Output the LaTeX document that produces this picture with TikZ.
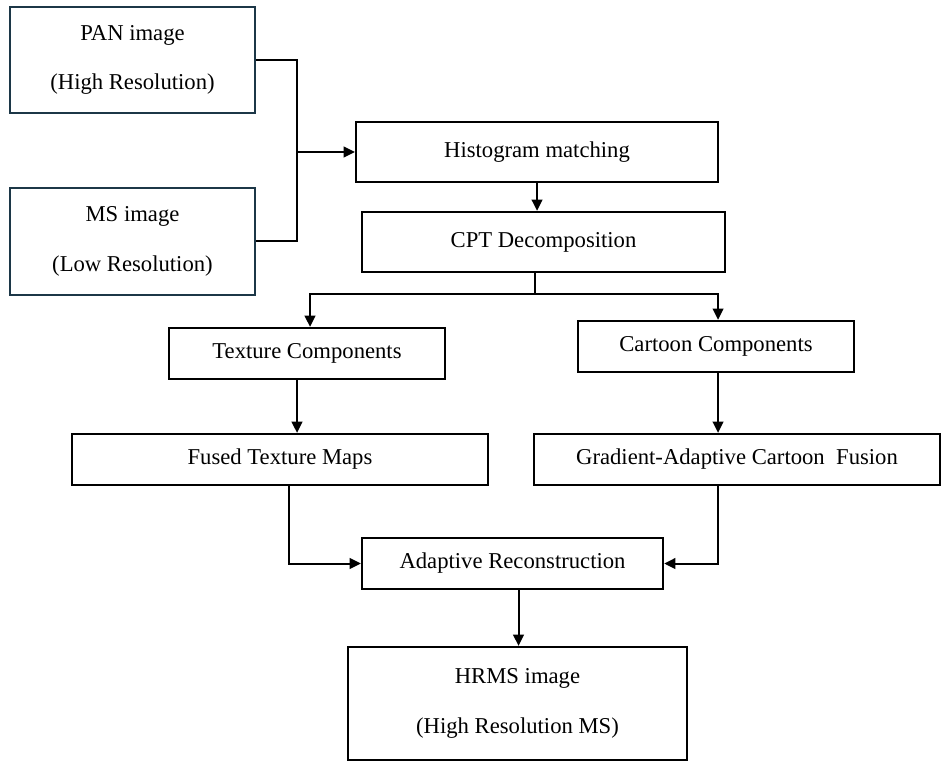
\documentclass[tikz,border=0pt]{standalone}
\usepackage{fontspec}
\setmainfont{Liberation Serif}
\usepackage{xcolor}
\usetikzlibrary{arrows.meta}
\definecolor{inblue}{HTML}{1C3747}

\begin{document}
\begin{tikzpicture}[x=0.75pt, y=-0.75pt,
    box/.style={draw, line width=1.7pt, align=center, inner sep=0pt,
        font=\fontsize{17}{37}\selectfont},
    inbox/.style={box, draw=inblue},
    arr/.style={-{Triangle[width=8pt, length=8.5pt]}},
    every path/.style={line width=1.5pt}]
    \useasboundingbox (0,0) rectangle (944,762);

    \node[inbox, minimum width=183.75pt, minimum height=79.5pt] (pan) at (132.5,60) {PAN image\\(High Resolution)};
    \node[inbox, minimum width=183.75pt, minimum height=80.25pt] (ms) at (132.5,241.5) {MS image\\(Low Resolution)};
    \node[box, minimum width=271.5pt, minimum height=45pt] (hist) at (537,152) {Histogram matching};
    \node[box, minimum width=272.25pt, minimum height=45pt] (cpt) at (543.5,242) {CPT Decomposition};
    \node[box, minimum width=207pt, minimum height=38.25pt] (tex) at (307,353.5) {Texture Components};
    \node[box, minimum width=207pt, minimum height=38.25pt] (cart) at (716,346.5) {Cartoon Components};
    \node[box, minimum width=312pt, minimum height=38.25pt] (fused) at (280,459.5) {Fused Texture Maps};
    \node[box, minimum width=304.5pt, minimum height=38.25pt] (grad) at (737,459.5) {Gradient-Adaptive Cartoon\ \ Fusion};
    \node[box, minimum width=225.75pt, minimum height=38.25pt] (adapt) at (512.5,563.5) {Adaptive Reconstruction};
    \node[box, minimum width=254.25pt, minimum height=84.75pt] (hrms) at (517.5,703.5) {HRMS image\\(High Resolution MS)};

    \coordinate (jn) at (297,152);
    \coordinate (sp) at (535,294);

    \draw (pan.east) -| (jn) |- (ms.east);
    \draw[arr] (jn) -- (hist.west);
    \draw[arr] (hist.south) -- (hist.south |- cpt.north);
    \draw (sp |- cpt.south) -- (sp);
    \draw[arr] (sp) -| ([xshift=2.25pt]tex.north);
    \draw[arr] (sp) -| ([xshift=1.5pt]cart.north);
    \draw[arr] ([xshift=-7.5pt]tex.south) -- ([xshift=-7.5pt]tex.south |- fused.north);
    \draw[arr] ([xshift=1.5pt]cart.south) -- ([xshift=1.5pt]cart.south |- grad.north);
    \draw[arr] ([xshift=6.75pt]fused.south) |- (adapt.west);
    \draw[arr] ([xshift=1.5pt]cart.south |- grad.south) |- (adapt.east);
    \draw[arr] ([xshift=4.5pt]adapt.south) -- ([xshift=4.5pt]adapt.south |- hrms.north);
\end{tikzpicture}
\end{document}
